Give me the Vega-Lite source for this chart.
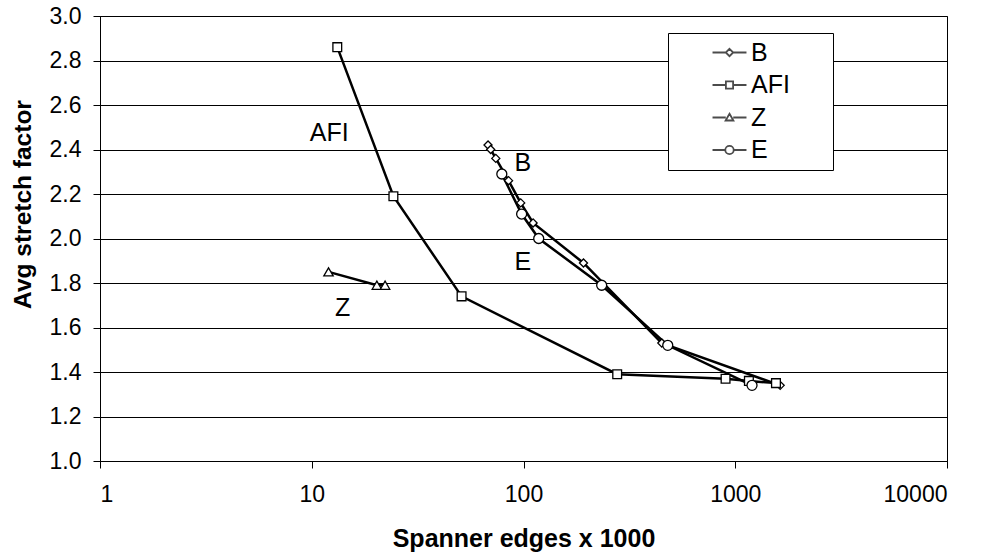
{
  "$schema": "https://vega.github.io/schema/vega-lite/v6.json",
  "width": 847,
  "height": 445,
  "autosize": {"type": "none"},
  "padding": {"left": 100, "top": 16, "right": 38, "bottom": 95},
  "background": "white",
  "config": {
    "view": {"stroke": "#000", "strokeWidth": 1},
    "font": "Liberation Sans",
    "axis": {
      "labelFont": "Liberation Sans",
      "titleFont": "Liberation Sans",
      "labelColor": "#000",
      "titleColor": "#000",
      "domainColor": "#000",
      "tickColor": "#000",
      "gridColor": "#000",
      "labelFontSize": 23,
      "titleFontSize": 25,
      "titleFontWeight": "bold",
      "tickSize": 7
    }
  },
  "datasets": {
    "pts": [
      {"series": "B", "edges": 68, "stretch": 2.42},
      {"series": "B", "edges": 70, "stretch": 2.40},
      {"series": "B", "edges": 74, "stretch": 2.36},
      {"series": "B", "edges": 85, "stretch": 2.26},
      {"series": "B", "edges": 97, "stretch": 2.16},
      {"series": "B", "edges": 111, "stretch": 2.07},
      {"series": "B", "edges": 192, "stretch": 1.89},
      {"series": "B", "edges": 450, "stretch": 1.53},
      {"series": "B", "edges": 1630, "stretch": 1.34},
      {"series": "AFI", "edges": 13.2, "stretch": 2.86},
      {"series": "AFI", "edges": 24.3, "stretch": 2.19},
      {"series": "AFI", "edges": 51, "stretch": 1.74},
      {"series": "AFI", "edges": 277, "stretch": 1.39},
      {"series": "AFI", "edges": 900, "stretch": 1.37},
      {"series": "AFI", "edges": 1160, "stretch": 1.36},
      {"series": "AFI", "edges": 1557, "stretch": 1.35},
      {"series": "Z", "edges": 12.0, "stretch": 1.85},
      {"series": "Z", "edges": 20.3, "stretch": 1.79},
      {"series": "Z", "edges": 22.2, "stretch": 1.79},
      {"series": "E", "edges": 79, "stretch": 2.29},
      {"series": "E", "edges": 98, "stretch": 2.11},
      {"series": "E", "edges": 118, "stretch": 2.00},
      {"series": "E", "edges": 234, "stretch": 1.79},
      {"series": "E", "edges": 480, "stretch": 1.52},
      {"series": "E", "edges": 1200, "stretch": 1.34}
    ],
    "labels": [
      {"text": "AFI", "edges": 12.1, "stretch": 2.476},
      {"text": "B", "edges": 99.2, "stretch": 2.338},
      {"text": "E", "edges": 99.2, "stretch": 1.896},
      {"text": "Z", "edges": 14.0, "stretch": 1.686}
    ]
  },
  "encoding": {
    "x": {
      "field": "edges",
      "type": "quantitative",
      "scale": {"type": "log", "domain": [1, 10000]},
      "axis": {
        "values": [1, 10, 100, 1000, 10000],
        "format": "d",
        "grid": false,
        "labelPadding": 15,
        "title": "Spanner edges x 1000",
        "titlePadding": 20
      }
    },
    "y": {
      "field": "stretch",
      "type": "quantitative",
      "scale": {"domain": [1, 3], "nice": false, "zero": false},
      "axis": {
        "values": [1.0, 1.2, 1.4, 1.6, 1.8, 2.0, 2.2, 2.4, 2.6, 2.8, 3.0],
        "format": ".1f",
        "grid": true,
        "gridWidth": 1,
        "labelPadding": 12,
        "title": "Avg stretch factor",
        "titleFontSize": 24.5,
        "titleY": 188,
        "titlePadding": 14
      }
    }
  },
  "layer": [
    {
      "data": {"name": "pts"},
      "mark": {"type": "line", "color": "#000", "strokeWidth": 2.5},
      "encoding": {
        "detail": {"field": "series", "type": "nominal"}
      }
    },
    {
      "data": {"name": "pts"},
      "mark": {"type": "point", "filled": false, "fill": "white", "stroke": "#000", "strokeWidth": 1.3, "opacity": 1},
      "encoding": {
        "shape": {
          "field": "series",
          "type": "nominal",
          "scale": {"domain": ["B", "AFI", "Z", "E"], "range": ["diamond", "square", "triangle-up", "circle"]},
          "legend": null
        },
        "size": {
          "field": "series",
          "type": "nominal",
          "scale": {"domain": ["B", "AFI", "Z", "E"], "range": [65, 100, 95, 100]},
          "legend": null
        }
      }
    },
    {
      "data": {"name": "pts"},
      "transform": [{"filter": "datum.stretch > 10"}],
      "mark": {"type": "point", "filled": false, "color": "#000", "stroke": "#000", "strokeWidth": 1.8},
      "encoding": {
        "shape": {
          "field": "series",
          "type": "nominal",
          "scale": {
            "domain": ["B", "AFI", "Z", "E"],
            "range": [
              "M-2.83,0H-0.62M0.62,0H2.83M0,-0.62L0.62,0L0,0.62L-0.62,0Z",
              "M-2.83,0H-0.6M0.6,0H2.83M-0.6,-0.6H0.6V0.6H-0.6Z",
              "M-2.83,0H-0.62M0.62,0H2.83M0,-0.62L0.65,0.5H-0.65Z",
              "M-2.83,0H-0.7M0.7,0H2.83M0.7,0A0.7,0.7 0 1,1 -0.7,0A0.7,0.7 0 1,1 0.7,0Z"
            ]
          },
          "legend": {
            "title": null,
            "orient": "none",
            "legendX": 568,
            "legendY": 17,
            "padding": 7,
            "strokeColor": "#000",
            "fillColor": "white",
            "symbolSize": 144,
            "symbolOffset": 42,
            "symbolFillColor": "white",
            "symbolStrokeColor": "#000",
            "symbolStrokeWidth": 1.8,
            "labelOffset": 9,
            "rowPadding": 6.5,
            "labelFont": "Liberation Sans",
            "labelFontSize": 25,
            "labelColor": "#000",
            "labelExpr": "datum.label + '\u2800\u2800'"
          }
        }
      }
    },
    {
      "data": {"name": "labels"},
      "mark": {"type": "text", "font": "Liberation Sans", "fontSize": 25, "color": "#000", "align": "center", "baseline": "middle"},
      "encoding": {
        "text": {"field": "text", "type": "nominal"}
      }
    }
  ],
  "resolve": {"scale": {"shape": "independent"}}
}
